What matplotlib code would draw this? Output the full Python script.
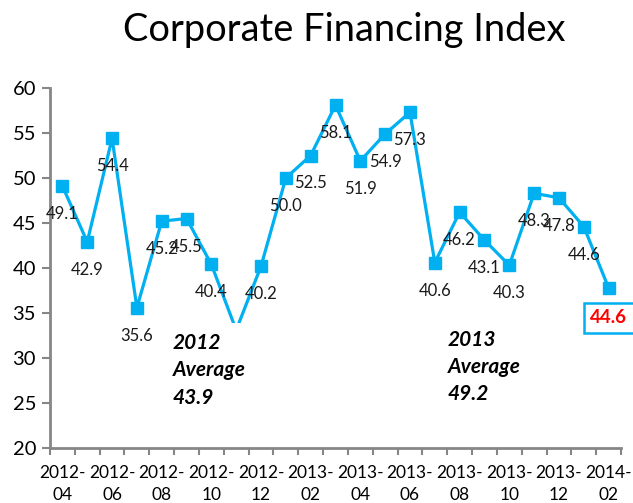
import numpy as np
import matplotlib
matplotlib.use("Agg")
from matplotlib import pyplot as plt

# months shown on the x axis (one point per month)
months = ["2012-04", "2012-05", "2012-06", "2012-07", "2012-08", "2012-09",
          "2012-10", "2012-11", "2012-12", "2013-01", "2013-02", "2013-03",
          "2013-04", "2013-05", "2013-06", "2013-07", "2013-08", "2013-09",
          "2013-10", "2013-11", "2013-12", "2014-01", "2014-02"]

index_values = [49.1, 42.9, 54.4, 35.6, 45.2, 45.5, 40.4, 33.1, 40.2, 50.0,
                52.5, 58.1, 51.9, 54.9, 57.3, 40.6, 46.2, 43.1, 40.3, 48.3,
                47.8, 44.6, 37.8]

# data labels as printed on the chart (2012-11 has none, last one is boxed)
point_labels = ["49.1", "42.9", "54.4", "35.6", "45.2", "45.5", "40.4", "",
                "40.2", "50.0", "52.5", "58.1", "51.9", "54.9", "57.3", "40.6",
                "46.2", "43.1", "40.3", "48.3", "47.8", "44.6", ""]
last_label = "44.6"

averages = [("2012", "43.9"), ("2013", "49.2")]

blue = "#00B0F0"
grey = "#868686"

plt.rcParams['font.family'] = ['Lato', 'DejaVu Sans']

fig = plt.figure(figsize=(6.33, 5.03), dpi=100)
ax = fig.add_axes([50/633, 1 - 448/503, 571/633, 360/503])

x = np.arange(len(months))
ax.plot(x, index_values, color=blue, lw=2.3, marker="s", markersize=8.5,
        zorder=2)

for i, lab in enumerate(point_labels):
    if lab:
        ax.annotate(lab, (x[i], index_values[i]), xytext=(0, -28),
                    textcoords="offset pixels", ha="center", va="center",
                    fontsize=12, color="#1a1a1a", zorder=3)

# boxed label on the last point
ax.annotate(last_label, (x[-1], index_values[-1]), xytext=(0, -30),
            textcoords="offset pixels", ha="center", va="center",
            fontsize=13.5, color="red", fontweight="bold", zorder=3,
            annotation_clip=False,
            bbox=dict(boxstyle="square,pad=0.35", fc="white", ec=blue, lw=1.8))

# yearly average text boxes (white background hides part of the line)
ax.text(4.45, 32.75, "%s\nAverage\n%s" % averages[0], ha="left", va="top",
        fontsize=15, fontweight="bold", fontstyle="italic",
        linespacing=1.45, zorder=4,
        bbox=dict(boxstyle="square,pad=0.5", fc="white", ec="none"))
ax.text(15.53, 33.1, "%s\nAverage\n%s" % averages[1], ha="left", va="top",
        fontsize=15, fontweight="bold", fontstyle="italic",
        linespacing=1.45, zorder=4)

ax.set_xlim(-0.5, len(months) - 0.5)
ax.set_ylim(20, 60)
ax.set_yticks(np.arange(20, 61, 5))
ax.tick_params(axis="y", labelsize=14.5, color=grey, width=1.5, length=6,
               pad=4)

# labels every second month, tick marks between months
ax.set_xticks(x[::2])
ax.set_xticklabels([m.replace("-", "-\n") for m in months[::2]],
                   linespacing=1.45)
ax.set_xticks(np.arange(-0.5, len(months), 1), minor=True)
ax.tick_params(axis="x", which="major", length=0, labelsize=12.5, pad=12)
ax.tick_params(axis="x", which="minor", length=5, color=grey, width=1.5)

for side in ["top", "right"]:
    ax.spines[side].set_visible(False)
for side in ["left", "bottom"]:
    ax.spines[side].set_color(grey)
    ax.spines[side].set_linewidth(2)

fig.text(344/633, 1 - 30/503, "Corporate Financing Index", ha="center",
         va="center", fontsize=27.4)

fig.savefig("out.png", dpi=100)
